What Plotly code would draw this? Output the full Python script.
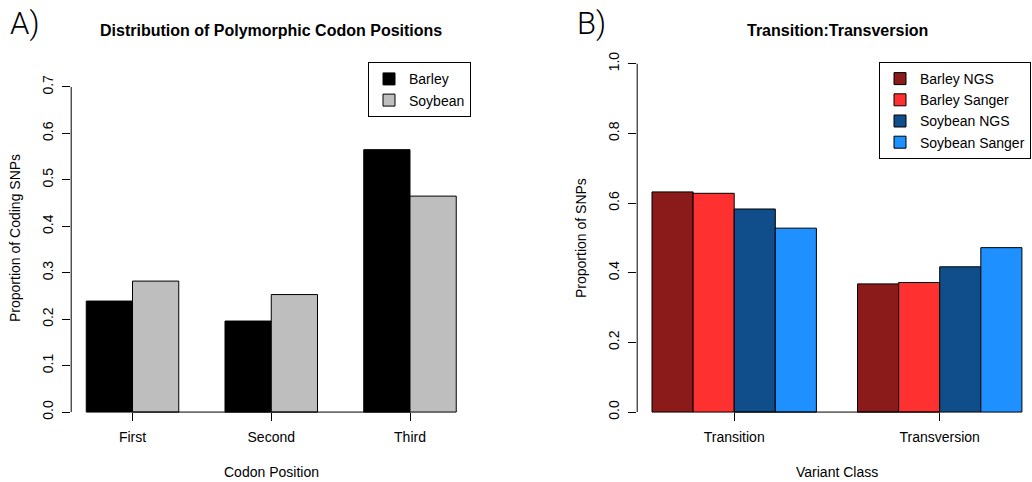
import plotly.graph_objects as go

# ---- data ----
codon_positions = ["First", "Second", "Third"]
barley_codon = [0.239, 0.196, 0.565]
soybean_codon = [0.282, 0.253, 0.465]

variant_classes = ["Transition", "Transversion"]
barley_ngs = [0.632, 0.368]
barley_sanger = [0.628, 0.372]
soybean_ngs = [0.583, 0.417]
soybean_sanger = [0.528, 0.472]

left_ticks = [0.0, 0.1, 0.2, 0.3, 0.4, 0.5, 0.6, 0.7]
right_ticks = [0.0, 0.2, 0.4, 0.6, 0.8, 1.0]

W, H = 1032, 482
FONT = "Liberation Sans, Arial, Helvetica, sans-serif"

def px_x(v):
    return v / W

def px_y(v):
    return (H - v) / H

fig = go.Figure()

line = dict(color="black", width=1)

# left panel
left_series = [("Barley", barley_codon, "#000000", -1/3),
               ("Soybean", soybean_codon, "#BEBEBE", 0.0)]
for name, vals, col, off in left_series:
    fig.add_trace(go.Bar(x=codon_positions, y=vals, name=name, marker=dict(color=col, line=line),
                         width=1/3, offset=off, xaxis="x", yaxis="y", legend="legend"))

right_series = [("Barley NGS", barley_ngs, "#8B1A1A", -0.4),
                ("Barley Sanger", barley_sanger, "#FF3030", -0.2),
                ("Soybean NGS", soybean_ngs, "#104E8B", 0.0),
                ("Soybean Sanger", soybean_sanger, "#1E90FF", 0.2)]
for name, vals, col, off in right_series:
    fig.add_trace(go.Bar(x=variant_classes, y=vals, name=name, marker=dict(color=col, line=line),
                         width=0.2, offset=off, xaxis="x2", yaxis="y2", legend="legend2"))

ydom = [px_y(426.0), px_y(49.8)]
xpos = px_y(412.07)

axis_font = dict(family=FONT, size=14, color="black")

common_x = dict(type="category", showgrid=False, zeroline=False, showline=False,
                ticks="outside", ticklen=8, tickwidth=1, tickcolor="black",
                tickfont=axis_font, anchor="free", position=xpos, ticklabelstandoff=4)
common_y = dict(showgrid=False, zeroline=False, showline=False, ticks="outside",
                ticklen=8, tickwidth=1, tickcolor="black", tickfont=axis_font,
                tickangle=-90, tickformat=".1f", ticklabelstandoff=4)

fig.update_layout(
    width=W, height=H,
    margin=dict(l=0, r=0, t=0, b=0),
    paper_bgcolor="white", plot_bgcolor="rgba(0,0,0,0)",
    barmode="overlay",
    font=dict(family=FONT, size=14, color="black"),
    xaxis=dict(domain=[px_x(71.2), px_x(470.8)], range=[-0.4418, 2.4382], **common_x),
    yaxis=dict(domain=ydom, range=[-0.03, 0.78], tickvals=left_ticks, anchor="x", **common_y),
    xaxis2=dict(domain=[px_x(637.2), 1.0], range=[-0.472, 1.4491], **common_x),
    yaxis2=dict(domain=ydom, range=[-0.04, 1.04], tickvals=right_ticks, anchor="x2", **common_y),
    legend=dict(x=px_x(471), xanchor="right", y=px_y(62.3), yanchor="top",
                bordercolor="black", borderwidth=1, bgcolor="white",
                font=dict(family=FONT, size=14, color="black")),
    legend2=dict(x=px_x(1031), xanchor="right", y=px_y(62.0), yanchor="top",
                 bordercolor="black", borderwidth=1, bgcolor="white",
                 font=dict(family=FONT, size=14, color="black")),
    showlegend=True,
)

# axis lines (R style: only over the tick range)
shape_line = dict(color="black", width=1)
fig.add_shape(type="line", xref="x domain", yref="y", x0=0, x1=0, y0=left_ticks[0], y1=left_ticks[-1], line=shape_line)
fig.add_shape(type="line", xref="x2 domain", yref="y2", x0=0, x1=0, y0=right_ticks[0], y1=right_ticks[-1], line=shape_line)
fig.add_shape(type="line", xref="x", yref="y", x0=codon_positions[0], x1=codon_positions[-1], y0=0, y1=0, line=shape_line)
fig.add_shape(type="line", xref="x2", yref="y2", x0=variant_classes[0], x1=variant_classes[-1], y0=0, y1=0, line=shape_line)

# titles and labels
def ann(text, x, y, size=14, bold=False, angle=0, xanchor="center", weight=None, family=FONT):
    f = dict(family=family, size=size, color="black")
    if weight is not None:
        f["weight"] = weight
    fig.add_annotation(text=f"<b>{text}</b>" if bold else text, xref="paper", yref="paper",
                       x=px_x(x), y=px_y(y), showarrow=False, xanchor=xanchor, yanchor="middle",
                       textangle=angle, font=f)

ann("Distribution of Polymorphic Codon Positions", 271, 30, size=16, bold=True)
ann("Transition:Transversion", 837, 30, size=16, bold=True)
ann("Codon Position", 271, 471.7)
ann("Variant Class", 837, 471.7)
ann("Proportion of Coding SNPs", 15, 238, angle=-90)
ann("Proportion of SNPs", 581, 238, angle=-90)
ann("A)", 8, 23, size=31, xanchor="left", weight=300, family="Roboto, " + FONT)
ann("B)", 575, 23, size=31, xanchor="left", weight=300, family="Roboto, " + FONT)

fig.write_html("out.html")
